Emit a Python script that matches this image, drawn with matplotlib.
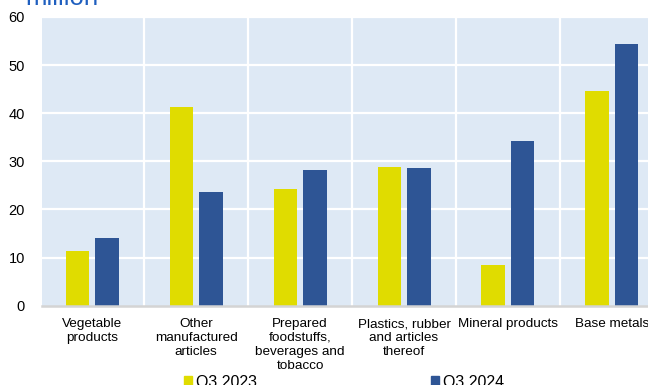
import matplotlib
matplotlib.use("Agg")
import matplotlib.pyplot as plt
import numpy as np
from matplotlib.patches import Patch

plt.rcParams['font.family'] = ['Liberation Sans', 'DejaVu Sans']

categories = ["Vegetable\nproducts", "Other\nmanufactured\narticles",
              "Prepared\nfoodstuffs,\nbeverages and\ntobacco",
              "Plastics, rubber\nand articles\nthereof", "Mineral products", "Base metals"]
q3_2023 = [11.3, 41.3, 24.2, 28.8, 8.4, 44.7]
q3_2024 = [14.0, 23.7, 28.1, 28.7, 34.3, 54.4]
series_names = ["Q3 2023", "Q3 2024"]
yticks = [0, 10, 20, 30, 40, 50, 60]

yellow = "#e0dc00"
blue = "#2e5595"

fig = plt.figure(figsize=(6.48, 3.85), dpi=100)
W, H = 648.0, 385.0
ax = fig.add_axes([41.7 / W, 1 - 305.7 / H, 606.3 / W, (305.7 - 17) / H])
ax.set_facecolor("#dee9f5")

x = np.arange(len(categories))
bw = 0.226
ax.bar(x - 0.142, q3_2023, bw, color=yellow, zorder=3)
ax.bar(x + 0.142, q3_2024, bw, color=blue, zorder=3)

ax.set_xlim(-0.4875, 5.348)
ax.set_ylim(0, 60)
ax.set_yticks(yticks)
ax.set_xticks(x)
ax.set_xticklabels(categories, fontsize=9.7, linespacing=1.2, va="top")
ax.tick_params(axis="y", length=0, pad=12, labelsize=10.5)
ax.tick_params(axis="x", length=0, pad=9)

# white grid, verticals between categories
for v in yticks[1:]:
    ax.axhline(v, color="white", lw=1.6, zorder=1)
for b in np.arange(0.5, 5.5, 1.0):
    ax.axvline(b, color="white", lw=1.6, zorder=1)

for s in ["top", "right", "left"]:
    ax.spines[s].set_visible(False)
ax.spines["bottom"].set_color("#d4d4d4")
ax.spines["bottom"].set_linewidth(1.8)
ax.spines["bottom"].set_zorder(4)

fig.text(25 / W, 1 - 5 / H, "million", fontsize=18.5, color="#1f5fbf", va="baseline", ha="left")

handles = [Patch(color=yellow), Patch(color=blue)]
fig.legend(handles, series_names, ncol=2, frameon=False, loc="center left",
           bbox_to_anchor=(184 / W, 1 - 382 / H), fontsize=11.5,
           handlelength=0.5, handleheight=0.5, handletextpad=0.25,
           columnspacing=10.9, borderpad=0, borderaxespad=0)

fig.savefig("out.png", dpi=100)
